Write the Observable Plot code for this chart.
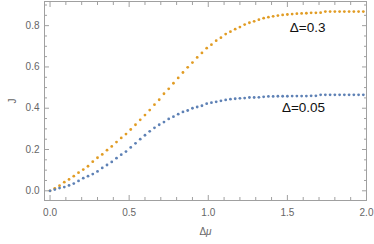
<!DOCTYPE html>
<html><head><meta charset="utf-8">
<script src="https://cdn.jsdelivr.net/npm/d3@7"></script>
<script src="https://cdn.jsdelivr.net/npm/@observablehq/plot@0.6"></script>
<style>html,body{margin:0;padding:0;background:#fff}</style>
</head><body><div id="chart"></div>
<script>
const dmu = [0.00,0.03,0.06,0.09,0.12,0.15,0.18,0.21,0.24,0.27,0.30,0.33,0.36,0.39,0.42,0.45,0.48,0.51,0.54,0.57,0.60,0.63,0.66,0.69,0.72,0.75,0.78,0.81,0.84,0.87,0.90,0.93,0.96,0.99,1.02,1.05,1.08,1.11,1.14,1.17,1.20,1.23,1.26,1.29,1.32,1.35,1.38,1.41,1.44,1.47,1.50,1.53,1.56,1.59,1.62,1.65,1.68,1.71,1.74,1.77,1.80,1.83,1.86,1.89,1.92,1.95,1.98];
const jDelta03 = [0.000,0.012,0.025,0.042,0.055,0.071,0.088,0.103,0.119,0.141,0.160,0.176,0.197,0.215,0.236,0.256,0.275,0.297,0.320,0.344,0.367,0.391,0.417,0.441,0.470,0.494,0.521,0.547,0.573,0.598,0.621,0.646,0.668,0.691,0.708,0.727,0.742,0.759,0.771,0.783,0.793,0.805,0.814,0.821,0.829,0.836,0.841,0.845,0.849,0.852,0.854,0.856,0.858,0.859,0.860,0.862,0.862,0.863,0.868,0.868,0.868,0.868,0.868,0.868,0.868,0.868,0.868];
const jDelta005 = [0.000,0.006,0.013,0.018,0.026,0.035,0.048,0.061,0.071,0.081,0.094,0.111,0.125,0.140,0.158,0.175,0.190,0.210,0.230,0.250,0.269,0.288,0.305,0.320,0.333,0.348,0.359,0.371,0.382,0.389,0.400,0.406,0.412,0.422,0.427,0.431,0.436,0.440,0.444,0.446,0.448,0.449,0.452,0.452,0.453,0.455,0.457,0.457,0.458,0.458,0.458,0.459,0.459,0.459,0.459,0.460,0.460,0.465,0.465,0.465,0.465,0.465,0.465,0.465,0.465,0.465,0.465];
const seriesLabels = ["Δ=0.3","Δ=0.05"];
const labelX = [1.628,1.602];
const labelY = [0.789,0.402];
const xMajorTicks = [0,0.5,1.0,1.5,2.0];
const xMinorTicks = [0.1,0.2,0.3,0.4,0.6,0.7,0.8,0.9,1.1,1.2,1.3,1.4,1.6,1.7,1.8,1.9];
const yMajorTicks = [0,0.2,0.4,0.6,0.8];
const yMinorTicks = [0.05,0.1,0.15,0.25,0.3,0.35,0.45,0.5,0.55,0.65,0.7,0.75,0.85,0.9];

const orange = "#e19c24", blue = "#5e81b5", frameGray = "#a0a0a0", textGray = "#666666";
const table = dmu.map((x, i) => ({x, a: jDelta03[i], b: jDelta005[i]}));
const notes = seriesLabels.map((t, i) => ({t, x: labelX[i], y: labelY[i]}));
const fmt = d3.format(".1f");

const tickAxes = [];
for (const anchor of ["bottom","top"]) {
  tickAxes.push(Plot.axisX(xMajorTicks, {anchor, tickSize: -5, fill: "none", stroke: frameGray, label: null}));
  tickAxes.push(Plot.axisX(xMinorTicks, {anchor, tickSize: -3, fill: "none", stroke: frameGray, label: null}));
}
for (const anchor of ["left","right"]) {
  tickAxes.push(Plot.axisY(yMajorTicks, {anchor, tickSize: -5, fill: "none", stroke: frameGray, label: null}));
  tickAxes.push(Plot.axisY(yMinorTicks, {anchor, tickSize: -3, fill: "none", stroke: frameGray, label: null}));
}

const chart = Plot.plot({
  width: 374, height: 244,
  marginLeft: 44, marginRight: 8, marginTop: 1, marginBottom: 44,
  style: {fontFamily: "'Liberation Sans', Arial, sans-serif", fontSize: "10px", color: textGray, background: "#fff"},
  x: {domain: [-0.035, 2.0]},
  y: {domain: [-0.047, 0.917]},
  marks: [
    ...tickAxes,
    Plot.axisX(xMajorTicks, {anchor: "bottom", tickSize: 0, tickPadding: 8, tickFormat: fmt, fill: textGray, label: "Δμ", labelAnchor: "center", labelArrow: "none", labelOffset: 34}),
    Plot.axisY(yMajorTicks, {anchor: "left", tickSize: 0, tickPadding: 5, tickFormat: fmt, fill: textGray, label: "J", labelAnchor: "center", labelArrow: "none", labelOffset: 36}),
    Plot.frame({stroke: frameGray}),
    Plot.dot(table, {x: "x", y: "a", r: 1.4, fill: orange, stroke: null}),
    Plot.dot(table, {x: "x", y: "b", r: 1.4, fill: blue, stroke: null}),
    Plot.text(notes, {x: "x", y: "y", text: "t", fontSize: 13.5, fill: "#111"})
  ]
});
document.getElementById("chart").appendChild(chart);
d3.select(chart).selectAll("text").each(function() {
  if (this.textContent === "Δμ") {
    this.textContent = "Δ";
    d3.select(this).append("tspan").attr("font-style", "italic").text("μ");
  }
});
</script>
</body></html>
